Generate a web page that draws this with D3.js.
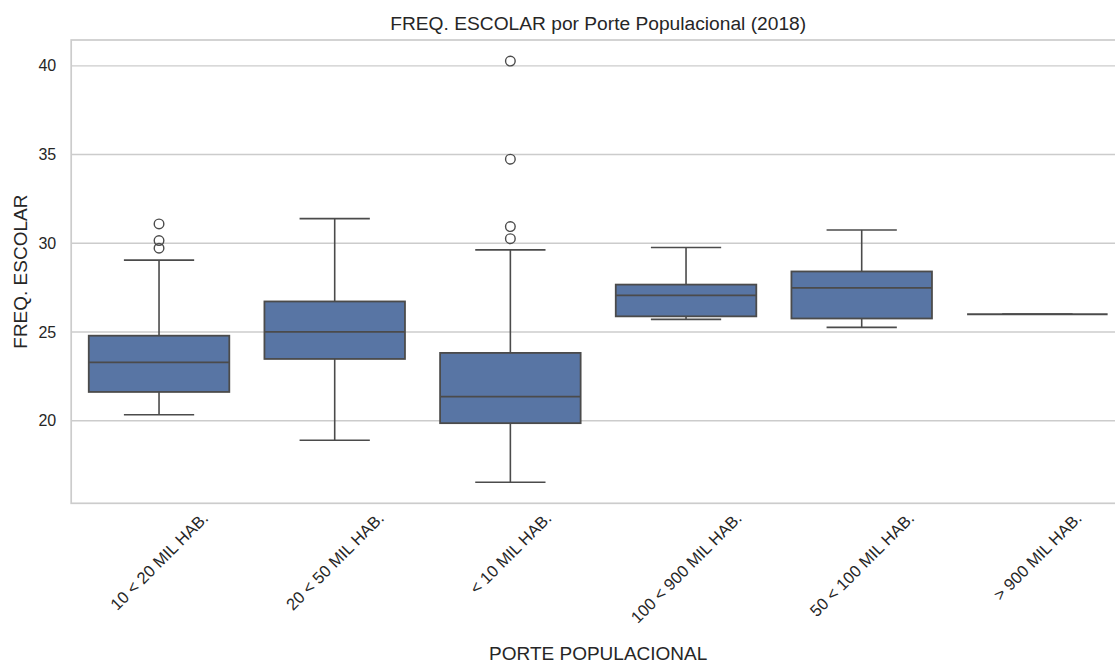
<!DOCTYPE html>
<html>
<head>
<meta charset="utf-8">
<script src="https://cdn.jsdelivr.net/npm/d3@7"></script>
<style>
  html, body { margin: 0; padding: 0; background: #ffffff; }
  svg { display: block; font-family: "Liberation Sans", Arial, sans-serif; }
</style>
</head>
<body>
<svg id="chart" width="1115" height="663"></svg>
<script>
// Population-size groups (x categories)
const categories = ["10 < 20 MIL HAB.", "20 < 50 MIL HAB.", "< 10 MIL HAB.",
                    "100 < 900 MIL HAB.", "50 < 100 MIL HAB.", "> 900 MIL HAB."];

// Box statistics per group
const whiskerLow  = [20.33, 18.90, 16.53, 25.71, 25.26, 26.00];
const q1          = [21.62, 23.48, 19.86, 25.88, 25.76, 26.00];
const median      = [23.29, 25.00, 21.36, 27.06, 27.49, 26.00];
const q3          = [24.79, 26.72, 23.82, 27.67, 28.41, 26.00];
const whiskerHigh = [29.05, 31.39, 29.63, 29.76, 30.75, 26.00];

// Points beyond the whiskers
const outliers = [
  [29.72, 30.15, 31.09],
  [],
  [30.26, 30.94, 34.74, 40.27],
  [],
  [],
  []
];

const yTicks = [20, 25, 30, 35, 40];

const titleText = "FREQ. ESCOLAR por Porte Populacional (2018)";
const xLabel = "PORTE POPULACIONAL";
const yLabel = "FREQ. ESCOLAR";

// ---- layout ----
const plot = { left: 71.2, right: 1125.2, top: 40, bottom: 503.3 };
const textColor = "#262626";
const gridColor = "#cccccc";
const lineColor = "#4b4b4b";
const boxFill = "#5875a4";

const svg = d3.select("#chart");

const rows = categories.map((c, i) => ({
  cat: c, lo: whiskerLow[i], q1: q1[i], med: median[i], q3: q3[i], hi: whiskerHigh[i], out: outliers[i]
}));

// y domain padded by 5% of the full data range
const allVals = rows.flatMap(r => [r.lo, r.hi, ...r.out]);
const vMin = d3.min(allVals), vMax = d3.max(allVals);
const padV = (vMax - vMin) * 0.05;

const x = d3.scaleBand().domain(categories).range([plot.left, plot.right]).paddingInner(0).paddingOuter(0);
const y = d3.scaleLinear().domain([vMin - padV, vMax + padV]).range([plot.bottom, plot.top]);

const bw = x.bandwidth() * 0.8;

// grid lines
svg.append("g").selectAll("line").data(yTicks).join("line")
  .attr("x1", plot.left).attr("x2", plot.right)
  .attr("y1", d => y(d)).attr("y2", d => y(d))
  .attr("stroke", gridColor).attr("stroke-width", 1.4);

// spines (left, bottom, top; right falls outside the canvas)
const sp = svg.append("g").attr("stroke", gridColor).attr("stroke-width", 1.7).attr("fill", "none");
sp.append("rect").attr("x", plot.left).attr("y", plot.top)
  .attr("width", plot.right - plot.left).attr("height", plot.bottom - plot.top);

// y tick labels
const yAxis = d3.axisLeft(y).tickValues(yTicks).tickSize(0).tickPadding(15).tickFormat(d3.format("d"));
const yg = svg.append("g").attr("transform", `translate(${plot.left},0)`).call(yAxis);
yg.select(".domain").remove();
yg.selectAll("text").attr("fill", textColor).attr("font-size", 16)
  .attr("font-family", "Liberation Sans, Arial, sans-serif");

// boxes
const boxes = svg.append("g").selectAll("g").data(rows).join("g")
  .attr("transform", d => `translate(${x(d.cat) + x.bandwidth() / 2},0)`);

// whiskers
boxes.append("line").attr("x1", 0).attr("x2", 0)
  .attr("y1", d => y(d.q3)).attr("y2", d => y(d.hi))
  .attr("stroke", lineColor).attr("stroke-width", 1.6);
boxes.append("line").attr("x1", 0).attr("x2", 0)
  .attr("y1", d => y(d.q1)).attr("y2", d => y(d.lo))
  .attr("stroke", lineColor).attr("stroke-width", 1.6);
// caps
boxes.append("line").attr("x1", -bw / 4).attr("x2", bw / 4)
  .attr("y1", d => y(d.hi)).attr("y2", d => y(d.hi))
  .attr("stroke", lineColor).attr("stroke-width", 1.6);
boxes.append("line").attr("x1", -bw / 4).attr("x2", bw / 4)
  .attr("y1", d => y(d.lo)).attr("y2", d => y(d.lo))
  .attr("stroke", lineColor).attr("stroke-width", 1.6);
// box body
boxes.append("rect")
  .attr("x", -bw / 2).attr("width", bw)
  .attr("y", d => y(d.q3)).attr("height", d => Math.max(0, y(d.q1) - y(d.q3)))
  .attr("fill", boxFill).attr("stroke", lineColor).attr("stroke-width", 1.8);
// median
boxes.append("line").attr("x1", -bw / 2).attr("x2", bw / 2)
  .attr("y1", d => y(d.med)).attr("y2", d => y(d.med))
  .attr("stroke", lineColor).attr("stroke-width", 1.8);
// outliers
boxes.selectAll("circle").data(d => d.out).join("circle")
  .attr("cx", 0).attr("cy", v => y(v)).attr("r", 4.8)
  .attr("fill", "none").attr("stroke", lineColor).attr("stroke-width", 1.4);

// x tick labels rotated 45 degrees, bbox centred under each tick
const xFont = 16.5;
const xg = svg.append("g");
categories.forEach(c => {
  const g = xg.append("g");
  const t = g.append("text").text(c)
    .attr("font-size", xFont).attr("fill", textColor)
    .attr("text-anchor", "middle").attr("dominant-baseline", "central")
    .attr("transform", "rotate(-45)");
  const L = t.node().getComputedTextLength();
  const H = xFont * 1.15;
  const half = (L + H) / (2 * Math.SQRT2);
  g.attr("transform", `translate(${x(c) + x.bandwidth() / 2},${plot.bottom + 5 + half})`);
});

// axis titles
svg.append("text").text(xLabel)
  .attr("x", (plot.left + plot.right) / 2).attr("y", 660)
  .attr("text-anchor", "middle").attr("font-size", 19).attr("fill", textColor);

svg.append("text").text(yLabel)
  .attr("transform", `translate(27,${(plot.top + plot.bottom) / 2}) rotate(-90)`)
  .attr("text-anchor", "middle").attr("font-size", 19).attr("fill", textColor);

// chart title
svg.append("text").text(titleText)
  .attr("x", (plot.left + plot.right) / 2).attr("y", 30)
  .attr("text-anchor", "middle").attr("font-size", 19.2).attr("fill", textColor);
</script>
</body>
</html>
